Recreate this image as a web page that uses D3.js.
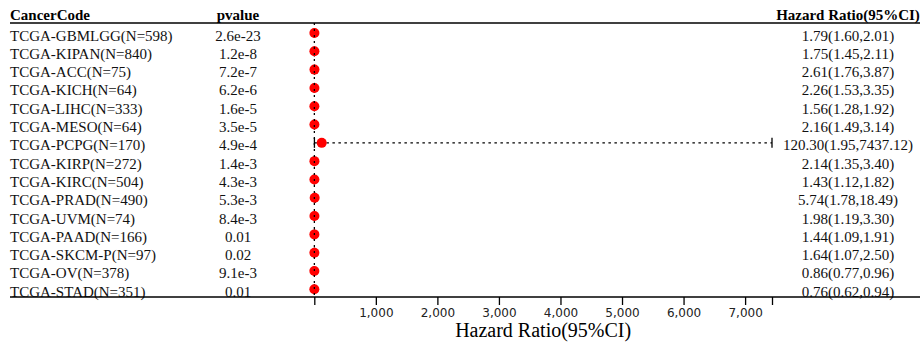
<!DOCTYPE html>
<html><head><meta charset="utf-8">
<script src="https://cdn.jsdelivr.net/npm/d3@7"></script>
<style>html,body{margin:0;padding:0;background:#fff;}svg{display:block;}</style>
</head><body>
<svg id="chart" width="920" height="344"></svg>
<script>
const cancerCodes = ["TCGA-GBMLGG(N=598)","TCGA-KIPAN(N=840)","TCGA-ACC(N=75)","TCGA-KICH(N=64)","TCGA-LIHC(N=333)","TCGA-MESO(N=64)","TCGA-PCPG(N=170)","TCGA-KIRP(N=272)","TCGA-KIRC(N=504)","TCGA-PRAD(N=490)","TCGA-UVM(N=74)","TCGA-PAAD(N=166)","TCGA-SKCM-P(N=97)","TCGA-OV(N=378)","TCGA-STAD(N=351)"];
const pvalues = ["2.6e-23","1.2e-8","7.2e-7","6.2e-6","1.6e-5","3.5e-5","4.9e-4","1.4e-3","4.3e-3","5.3e-3","8.4e-3","0.01","0.02","9.1e-3","0.01"];
const hrValues = [1.79,1.75,2.61,2.26,1.56,2.16,120.30,2.14,1.43,5.74,1.98,1.44,1.64,0.86,0.76];
const hrLower  = [1.60,1.45,1.76,1.53,1.28,1.49,1.95,1.35,1.12,1.78,1.19,1.09,1.07,0.77,0.62];
const hrUpper  = [2.01,2.11,3.87,3.35,1.92,3.14,7437.12,3.40,1.82,18.49,3.30,1.91,2.50,0.96,0.94];
const hrLabels = ["1.79(1.60,2.01)","1.75(1.45,2.11)","2.61(1.76,3.87)","2.26(1.53,3.35)","1.56(1.28,1.92)","2.16(1.49,3.14)","120.30(1.95,7437.12)","2.14(1.35,3.40)","1.43(1.12,1.82)","5.74(1.78,18.49)","1.98(1.19,3.30)","1.44(1.09,1.91)","1.64(1.07,2.50)","0.86(0.77,0.96)","0.76(0.62,0.94)"];
const xTicks = [0,1000,2000,3000,4000,5000,6000,7000,7437.12];
const xTickLabels = ["","1,000","2,000","3,000","4,000","5,000","6,000","7,000",""];

const svg = d3.select("#chart");
const serif = "'Liberation Serif','Times New Roman',serif";
const n = cancerCodes.length;
const rows = d3.range(n);

const x = d3.scaleLinear().domain([0, 7437.12]).range([314.3, 772]);
const y = d3.scalePoint().domain(rows).range([33, 289.3]);

const headerY = 23, axisY = 297;

// header
const hdr = svg.append("g").attr("font-family", serif).attr("font-size", 15).attr("font-weight", "bold").attr("fill", "#000");
hdr.append("text").attr("x", 10).attr("y", 20).text("CancerCode");
hdr.append("text").attr("x", 238).attr("y", 20).attr("text-anchor", "middle").text("pvalue");
hdr.append("text").attr("x", 848).attr("y", 20).attr("text-anchor", "middle").text("Hazard Ratio(95%CI)");
svg.append("line").attr("x1", 10).attr("x2", 920).attr("y1", headerY).attr("y2", headerY).attr("stroke", "#000").attr("stroke-width", 1.6);

// rows text
const tg = svg.append("g").attr("font-family", serif).attr("font-size", 15).attr("fill", "#111");
tg.selectAll("text.code").data(rows).join("text").attr("class","code")
  .attr("x", 10).attr("y", i => y(i) + 7.5).text(i => cancerCodes[i]);
tg.selectAll("text.pv").data(rows).join("text").attr("class","pv")
  .attr("x", 238).attr("y", i => y(i) + 7.5).attr("text-anchor","middle").text(i => pvalues[i]);
tg.selectAll("text.hr").data(rows).join("text").attr("class","hr")
  .attr("x", 848).attr("y", i => y(i) + 7.5).attr("text-anchor","middle").text(i => hrLabels[i]);

// CI lines
const ci = svg.append("g");
ci.selectAll("line.ci").data(rows).join("line").attr("class","ci")
  .attr("x1", i => x(hrLower[i])).attr("x2", i => x(hrUpper[i]))
  .attr("y1", i => y(i)).attr("y2", i => y(i))
  .attr("stroke", "#000").attr("stroke-width", 1.3).attr("stroke-dasharray", "2.5,3.5");
ci.selectAll("line.lo").data(rows).join("line").attr("class","lo")
  .attr("x1", i => x(hrLower[i])).attr("x2", i => x(hrLower[i]))
  .attr("y1", i => y(i) - 5).attr("y2", i => y(i) + 5)
  .attr("stroke", "#000").attr("stroke-width", 1.3);
ci.selectAll("line.hi").data(rows).join("line").attr("class","hi")
  .attr("x1", i => x(hrUpper[i])).attr("x2", i => x(hrUpper[i]))
  .attr("y1", i => y(i) - 5).attr("y2", i => y(i) + 5)
  .attr("stroke", "#000").attr("stroke-width", 1.3);

// points
svg.append("g").selectAll("circle").data(rows).join("circle")
  .attr("cx", i => x(hrValues[i])).attr("cy", i => y(i)).attr("r", 5)
  .attr("fill", "#ff0000");

// reference line at HR = 1
svg.append("line").attr("x1", x(1)).attr("x2", x(1)).attr("y1", headerY).attr("y2", axisY)
  .attr("stroke", "#000").attr("stroke-width", 1.3).attr("stroke-dasharray", "2,4");

// bottom line
svg.append("line").attr("x1", 10).attr("x2", 920).attr("y1", axisY).attr("y2", axisY).attr("stroke", "#000").attr("stroke-width", 1.3);

// axis
const axis = d3.axisBottom(x).tickValues(xTicks).tickSize(8).tickPadding(3)
  .tickFormat((d, i) => xTickLabels[i]);
const ax = svg.append("g").attr("transform", `translate(0,${axisY})`).call(axis);
ax.select(".domain").remove();
ax.selectAll(".tick line").attr("stroke", "#000").attr("stroke-width", 1.3);
ax.selectAll(".tick text").attr("font-family", "'DejaVu Sans',sans-serif").attr("font-size", 12).attr("fill", "#222");

svg.append("text").attr("x", (x(0) + x(7437.12)) / 2).attr("y", 337).attr("text-anchor", "middle")
  .attr("font-family", serif).attr("font-size", 20).attr("fill", "#000").text("Hazard Ratio(95%CI)");
</script>
</body></html>
